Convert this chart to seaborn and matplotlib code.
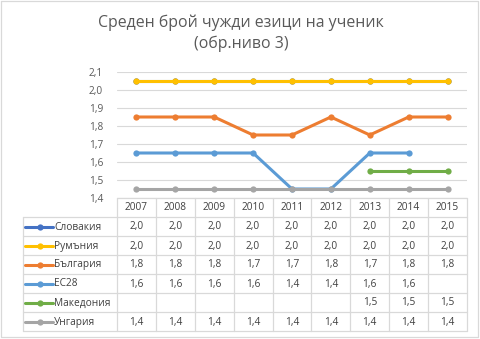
import math
import matplotlib
matplotlib.use("Agg")
import matplotlib.pyplot as plt
import seaborn as sns
import pandas as pd
from matplotlib.lines import Line2D

sns.set_style("white")
plt.rcParams['font.family'] = ['Open Sans', 'DejaVu Sans']

years = ["2007", "2008", "2009", "2010", "2011", "2012", "2013", "2014", "2015"]
series_names = ["Словакия", "Румъния", "България", "ЕС28", "Македония", "Унгария"]
slovakia = [2.05, 2.05, 2.05, 2.05, 2.05, 2.05, 2.05, 2.05, 2.05]
romania = [2.05, 2.05, 2.05, 2.05, 2.05, 2.05, 2.05, 2.05, 2.05]
bulgaria = [1.85, 1.85, 1.85, 1.75, 1.75, 1.85, 1.75, 1.85, 1.85]
eu28 = [1.65, 1.65, 1.65, 1.65, 1.45, 1.45, 1.65, 1.65, None]
macedonia = [None, None, None, None, None, None, 1.55, 1.55, 1.55]
hungary = [1.45, 1.45, 1.45, 1.45, 1.45, 1.45, 1.45, 1.45, 1.45]
y_ticks = [1.4, 1.5, 1.6, 1.7, 1.8, 1.9, 2.0, 2.1]
title = "Среден брой чужди езици на ученик\n(обр.ниво 3)"

colors = ["#4472C4", "#FFC000", "#ED7D31", "#5B9BD5", "#70AD47", "#A5A5A5"]
all_series = [slovakia, romania, bulgaria, eu28, macedonia, hungary]

W, H = 480, 339
fig = plt.figure(figsize=(W / 100, H / 100), dpi=100)

x0, x1 = 117, 467
ytop, ybot = 72, 198
ax = fig.add_axes([x0 / W, 1 - ybot / H, (x1 - x0) / W, (ybot - ytop) / H])

rows = []
for name, vals in zip(series_names, all_series):
    for i, (yr, v) in enumerate(zip(years, vals)):
        rows.append({"series": name, "x": i, "value": v})
df = pd.DataFrame(rows)

for name, col in zip(series_names, colors):
    sub = df[df["series"] == name].dropna()
    sns.lineplot(data=sub, x="x", y="value", ax=ax, color=col, linewidth=2.2,
                 marker="o", markersize=4.5, markeredgewidth=0, legend=False)

ax.set_xlim(-0.5, len(years) - 0.5)
ax.set_ylim(1.4, 2.1)
ax.set_yticks(y_ticks)
ax.set_yticklabels([f"{t:.1f}".replace(".", ",") for t in y_ticks], color="#595959", fontsize=7.3)
ax.tick_params(axis="y", length=0, pad=10)
ax.set_xticks([])
ax.set_xlabel("")
ax.set_ylabel("")
ax.grid(axis="y", color="#D9D9D9", linewidth=0.8)
ax.set_axisbelow(True)
for s in ax.spines.values():
    s.set_visible(False)

# overlay for table, in pixel coordinates
ov = fig.add_axes([0, 0, 1, 1], facecolor="none")
ov.set_xlim(0, W)
ov.set_ylim(H, 0)
ov.axis("off")

gc = "#D9D9D9"
tc = "#404040"
colw = (x1 - x0) / len(years)
tleft = 22.5
rh = 19
row_tops = [ybot + rh * k for k in range(len(series_names) + 2)]
tbot = row_tops[-1]

# horizontal lines
ov.add_line(Line2D([x0, x1], [ybot, ybot], color=gc, lw=0.9))
for yy in row_tops[1:]:
    ov.add_line(Line2D([tleft, x1], [yy, yy], color=gc, lw=0.9))
# vertical lines
ov.add_line(Line2D([tleft, tleft], [row_tops[1], tbot], color=gc, lw=0.9))
for k in range(len(years) + 1):
    xx = x0 + k * colw
    ov.add_line(Line2D([xx, xx], [ybot, tbot], color=gc, lw=0.9))

fs = 7.3
for k, yr in enumerate(years):
    ov.text(x0 + (k + 0.5) * colw, ybot + rh / 2 + 0.5, yr, ha="center", va="center",
            fontsize=fs, color=tc)

for r, (name, vals, col) in enumerate(zip(series_names, all_series, colors)):
    yc = row_tops[r + 1] + rh / 2 + 0.5
    ov.add_line(Line2D([25, 53], [yc, yc], color=col, lw=2.2))
    ov.plot([40], [yc], marker="o", color=col, markersize=4.5, markeredgewidth=0)
    ov.text(54, yc, name, ha="left", va="center", fontsize=fs, color=tc)
    for k, v in enumerate(vals):
        if v is None:
            continue
        lab = f"{math.floor(v * 10 + 1e-9) / 10:.1f}".replace(".", ",")
        ov.text(x0 + (k + 0.5) * colw, yc, lab, ha="center", va="center",
                fontsize=fs, color=tc)

# title
fig.text(241 / W, 1 - 33 / H, title, ha="center", va="center", fontsize=11.4,
         color="#595959", linespacing=1.4)

# chart border
ov.add_line(Line2D([0.5, W - 2.5, W - 2.5, 0.5, 0.5], [0.5, 0.5, H - 2.5, H - 2.5, 0.5],
                   color="#D9D9D9", lw=0.9))

fig.savefig("out.png", dpi=100)
